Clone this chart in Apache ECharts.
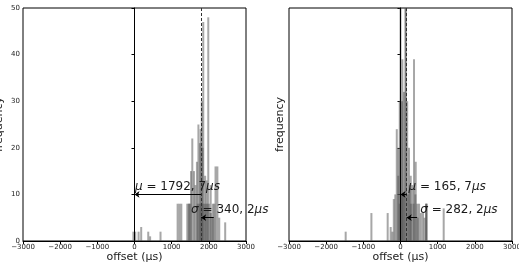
<!DOCTYPE html>
<html>
<head>
<meta charset="utf-8">
<script src="https://cdn.jsdelivr.net/npm/echarts@6/dist/echarts.min.js"></script>
<style>
  html, body { margin: 0; padding: 0; background: #fff; }
  #chart { width: 519px; height: 267px; }
</style>
</head>
<body>
<div id="chart"></div>
<script>
// histogram bins [offset in µs, count], a few overlapping runs per panel
var leftRunA = [[-30, 2], [20, 2], [110, 2], [180, 3], [370, 2], [420, 1], [700, 2],
  [1160, 8], [1210, 8], [1260, 8], [1420, 8], [1470, 8], [1520, 15], [1555, 22],
  [1640, 12], [1720, 25], [1850, 47], [1985, 48], [2180, 16], [2230, 16], [2440, 4]];
var leftRunB = [[1460, 8], [1500, 8], [1600, 15], [1680, 17], [1760, 21], [1810, 30],
  [1900, 14], [1940, 13], [2050, 12], [2110, 8], [2150, 8], [2280, 5]];
var leftRunC = [[1700, 8], [1750, 8], [1780, 24], [1800, 8], [1830, 20], [1850, 8],
  [1900, 8], [1950, 8], [2000, 8], [2050, 6], [2100, 5]];

var rightRunA = [[-1475, 2], [-783, 6], [-345, 6], [-264, 3], [-218, 2], [-180, 9],
  [-100, 24], [-57, 20], [-20, 30], [50, 39], [94, 32], [229, 20], [275, 14],
  [364, 39], [409, 17], [463, 5], [605, 6], [696, 8], [1162, 7]];
var rightRunB = [[-140, 10], [-60, 14], [0, 60], [40, 30], [139, 60], [180, 30],
  [250, 12], [320, 12], [400, 10], [500, 8], [550, 6], [650, 5], [700, 8]];
var rightRunC = [[-20, 8], [20, 10], [60, 10], [100, 10], [139, 60], [200, 10],
  [280, 8], [350, 8], [450, 8], [690, 8]];

var xRange = [-3000, 3000], xStep = 1000;
var yRange = [0, 50], yStep = 10;

var leftStats = { mean: 1792.7, sigma: 340.2, meanText: '1792, 7', sigmaText: '340, 2' };
var rightStats = { mean: 165.7, sigma: 282.2, meanText: '165, 7', sigmaText: '282, 2' };

var font = 'DejaVu Sans';
var ink = '#1a1a1a';

function xAxisFor(i) {
  return {
    type: 'value', gridIndex: i, min: xRange[0], max: xRange[1], interval: xStep,
    name: 'offset (μs)', nameLocation: 'middle', nameGap: 11, nameMoveOverlap: false,
    nameTextStyle: { fontFamily: font, fontSize: 11, color: ink },
    axisLine: { lineStyle: { color: '#000', width: 1 } },
    axisTick: { inside: false, length: 3, lineStyle: { color: '#000' } },
    axisLabel: { fontFamily: font, fontSize: 7, color: ink, margin: 3,
      formatter: function (v) { return String(v).replace('-', '\u2212'); } },
    splitLine: { show: false }
  };
}

function yAxisFor(i, labels, gap) {
  return {
    type: 'value', gridIndex: i, min: yRange[0], max: yRange[1], interval: yStep,
    name: 'frequency', nameLocation: 'middle', nameGap: gap,
    nameTextStyle: { fontFamily: font, fontSize: 11, color: ink },
    axisLine: { show: true, lineStyle: { color: '#000', width: 1 } },
    axisTick: { show: true, inside: false, length: 3, lineStyle: { color: '#000' } },
    axisLabel: { show: labels, fontFamily: font, fontSize: 7, color: ink, margin: 3 },
    splitLine: { show: false }
  };
}

function bars(data, i) {
  return {
    type: 'bar', xAxisIndex: i, yAxisIndex: i, data: data,
    barWidth: 2, barGap: '-100%', silent: true, animation: false,
    itemStyle: { color: 'rgba(80,80,80,0.5)' }
  };
}

// vertical lines, arrows and μ/σ text live on the first run of each panel
function annotate(series, st, muAt, sigmaAt) {
  var rich = { i: { fontStyle: 'italic', fontFamily: font, fontSize: 12, color: ink } };
  series.markLine = {
    silent: true, animation: false, symbol: ['none', 'none'], symbolSize: 5,
    label: { show: false },
    lineStyle: { type: 'solid', color: '#000', width: 1 },
    data: [
      { xAxis: 0, lineStyle: { type: 'solid', color: '#000', width: 1 } },
      { xAxis: st.mean, lineStyle: { type: [3, 2], color: '#333', width: 1 } },
      [{ coord: [st.mean, 10], symbol: 'none' }, { coord: [0, 10], symbol: 'arrow' }],
      [{ coord: [st.mean + st.sigma, 5], symbol: 'none' }, { coord: [st.mean, 5], symbol: 'arrow' }]
    ]
  };
  series.markPoint = {
    silent: true, animation: false, symbol: 'rect', symbolSize: 1,
    itemStyle: { color: 'transparent' },
    label: { show: true, position: 'right', distance: 0, fontFamily: font, fontSize: 12, color: ink, rich: rich },
    data: [
      { coord: muAt, label: { formatter: '{i|μ} = ' + st.meanText + '{i|μs}' } },
      { coord: sigmaAt, label: { formatter: '{i|σ} = ' + st.sigmaText + '{i|μs}' } }
    ]
  };
  return series;
}

var chart = echarts.init(document.getElementById('chart'), null, { renderer: 'canvas' });
chart.setOption({
  animation: false,
  backgroundColor: '#fff',
  grid: [
    { left: 23, top: 8, width: 223, height: 233, show: true, borderColor: '#000', borderWidth: 1, outerBoundsMode: 'none' },
    { left: 289, top: 8, width: 223, height: 233, show: true, borderColor: '#000', borderWidth: 1, outerBoundsMode: 'none' }
  ],
  xAxis: [xAxisFor(0), xAxisFor(1)],
  yAxis: [yAxisFor(0, true, 18), yAxisFor(1, false, 3)],
  series: [
    annotate(bars(leftRunA, 0), leftStats, [0, 11.6], [1510, 6.6]),
    bars(leftRunB, 0),
    bars(leftRunC, 0),
    annotate(bars(rightRunA, 1), rightStats, [200, 11.6], [517, 6.6]),
    bars(rightRunB, 1),
    bars(rightRunC, 1)
  ]
});
</script>
</body>
</html>
